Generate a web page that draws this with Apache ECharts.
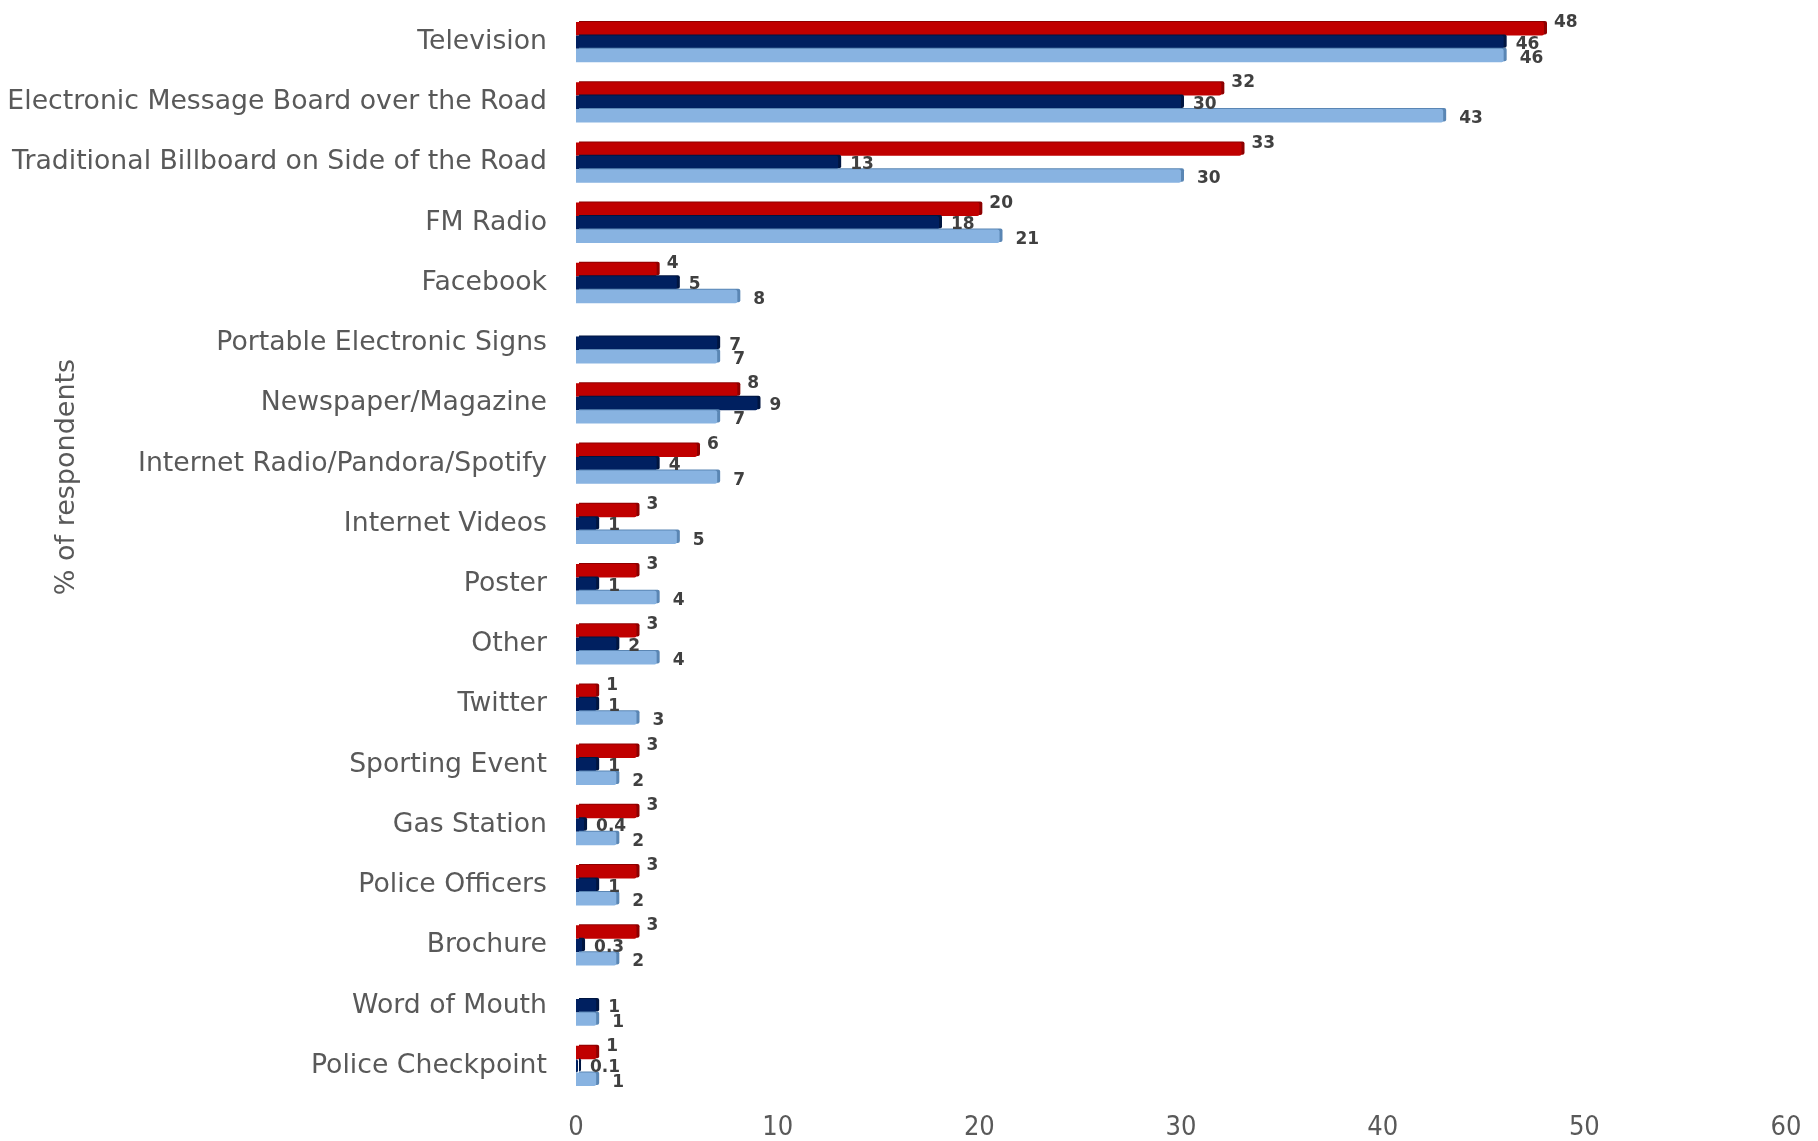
<!DOCTYPE html>
<html>
<head>
<meta charset="utf-8">
<title>Information sources</title>
<script src="https://cdn.jsdelivr.net/npm/echarts@6/dist/echarts.min.js"></script>
<style>
  html, body { margin: 0; padding: 0; background: #ffffff; }
  #chart { width: 1818px; height: 1141px; }
</style>
</head>
<body>
<div id="chart"></div>
<script>
// Sources where respondents saw the message, top to bottom
const categories = [
  'Television',
  'Electronic Message Board over the Road',
  'Traditional Billboard on Side of the Road',
  'FM Radio',
  'Facebook',
  'Portable Electronic Signs',
  'Newspaper/Magazine',
  'Internet Radio/Pandora/Spotify',
  'Internet Videos',
  'Poster',
  'Other',
  'Twitter',
  'Sporting Event',
  'Gas Station',
  'Police Officers',
  'Brochure',
  'Word of Mouth',
  'Police Checkpoint'
];

// % of respondents, three survey groups (null = not asked)
const redValues   = [48, 32, 33, 20, 4, null, 8, 6, 3, 3, 3, 1, 3, 3, 3, 3, null, 1];
const navyValues  = [46, 30, 13, 18, 5, 7, 9, 4, 1, 1, 2, 1, 1, 0.4, 1, 0.3, 1, 0.1];
const lightValues = [46, 43, 30, 21, 8, 7, 7, 7, 5, 4, 4, 3, 2, 2, 2, 2, 1, 1];

const xTicks = { min: 0, max: 60, interval: 10 };
const axisTitle = '% of respondents';

const FONT = '"DejaVu Sans", "Liberation Sans", Arial, sans-serif';
const NARROW = '"Liberation Sans Narrow", "DejaVu Sans Condensed", "Liberation Sans", sans-serif';

function barSeries(name, values, color, sideColor, labelDistance, labelOffset) {
  return {
    name: name,
    type: 'bar',
    data: values,
    barGap: '0%',
    barCategoryGap: '33%',
    itemStyle: {
      color: color,
      borderRadius: [0, 2, 2, 0],
      shadowColor: sideColor,
      shadowBlur: 0,
      shadowOffsetX: 3,
      shadowOffsetY: -1
    },
    label: {
      show: true,
      position: 'right',
      distance: labelDistance,
      offset: labelOffset,
      fontFamily: FONT,
      fontSize: 17,
      fontWeight: 'bold',
      color: '#404040',
      formatter: p => (p.value == null ? '' : String(p.value))
    },
    emphasis: { disabled: true }
  };
}

const chart = echarts.init(document.getElementById('chart'), null, { renderer: 'canvas' });

chart.setOption({
  animation: false,
  backgroundColor: '#ffffff',
  grid: { left: 576, right: 32, top: 12, bottom: 42, containLabel: false },
  xAxis: {
    type: 'value',
    min: xTicks.min,
    max: xTicks.max,
    interval: xTicks.interval,
    axisLine: { show: false },
    axisTick: { show: false },
    splitLine: { show: false },
    axisLabel: {
      margin: 18,
      fontFamily: NARROW,
      fontSize: 27,
      color: '#595959'
    }
  },
  yAxis: {
    type: 'category',
    data: categories,
    inverse: true,
    axisLine: { show: false },
    axisTick: { show: false },
    axisLabel: {
      margin: 29,
      fontFamily: FONT,
      fontSize: 26.7,
      color: '#595959'
    }
  },
  // rotated value-axis title, reading bottom to top
  graphic: [{
    type: 'text',
    x: 67,
    y: 477,
    rotation: Math.PI / 2,
    style: {
      text: axisTitle,
      fontFamily: FONT,
      fontSize: 27,
      fill: '#595959',
      textAlign: 'center',
      textVerticalAlign: 'middle'
    }
  }],
  series: [
    barSeries('Group A', redValues,   '#C00000', '#8E0000', 10, [0, -6]),
    barSeries('Group B', navyValues,  '#002060', '#001540', 12, [0, 2]),
    barSeries('Group C', lightValues, '#88B3E1', '#5A86B4', 16, [0, 3])
  ]
});
</script>
</body>
</html>
